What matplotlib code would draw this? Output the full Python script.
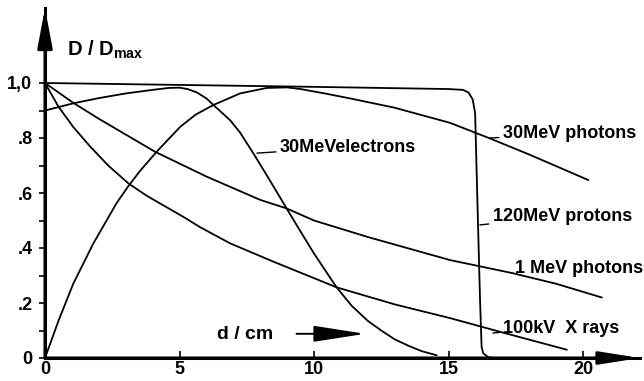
import matplotlib
matplotlib.use('Agg')
import matplotlib.pyplot as plt

plt.rcParams['font.family'] = ['Liberation Sans', 'DejaVu Sans']
plt.rcParams['mathtext.default'] = 'regular'

# ---- data ----
protons_x = [0, 5, 10, 15, 15.54, 15.75, 15.9, 15.99, 16.08, 16.17, 16.23, 16.29, 16.48, 16.67]
protons_y = [1.0, 0.993, 0.986, 0.978, 0.975, 0.965, 0.94, 0.89, 0.55, 0.22, 0.041, 0.017, 0.003, 0.0]

photons30_x = [0, 0.5, 1.05, 1.8, 2.66, 3.1, 3.53, 4.15, 5.02, 5.6, 6.26, 7.25, 8.24, 9.0, 9.5,
               10.4, 11.34, 13.0, 15.06, 16.5, 18.0, 20.2]
photons30_y = [0.0, 0.135, 0.27, 0.417, 0.563, 0.625, 0.68, 0.75, 0.84, 0.885, 0.92, 0.962, 0.982, 0.984, 0.978,
               0.962, 0.944, 0.91, 0.855, 0.80, 0.74, 0.647]

electrons_x = [0, 1.05, 2, 3, 4, 4.6, 5.0, 5.3, 5.64, 6.0, 6.26, 6.88, 7.25, 7.74, 8.24, 8.61, 8.98,
               9.5, 10.0, 10.84, 11.4, 12.0, 12.5, 13.0, 13.5, 14.0, 14.56]
electrons_y = [0.90, 0.926, 0.945, 0.962, 0.975, 0.982, 0.983, 0.978, 0.966, 0.944, 0.92, 0.865, 0.82, 0.745,
               0.665, 0.605, 0.544, 0.46, 0.38, 0.257, 0.19, 0.135, 0.10, 0.068, 0.045, 0.025, 0.01]

mev1_x = [0, 1.05, 2, 4.09, 6, 8, 8.98, 10, 12, 15.06, 17.36, 19, 20.7]
mev1_y = [1.0, 0.928, 0.87, 0.75, 0.66, 0.575, 0.544, 0.50, 0.44, 0.356, 0.309, 0.27, 0.22]

kv100_x = [0, 0.5, 1.05, 1.67, 2.35, 3.1, 3.78, 5.2, 5.76, 6.88, 8.5, 10.84, 13, 15.06, 17, 19.4]
kv100_y = [1.0, 0.914, 0.84, 0.77, 0.70, 0.635, 0.59, 0.51, 0.476, 0.417, 0.35, 0.257, 0.195, 0.145, 0.093, 0.03]

x_ticks = [0, 5, 10, 15, 20]
x_ticklabels = ['0', '5', '10', '15', '20']
y_ticks = [0, 0.2, 0.4, 0.6, 0.8, 1.0]
y_ticklabels = ['0', '.2', '.4', '.6', '.8', '1,0']
y_minor = [0.1, 0.3, 0.5, 0.7, 0.9]

labels = ['30MeVelectrons', '30MeV photons', '120MeV protons', '1 MeV photons', '100kV  X rays']
label_pts = [(7.88, 0.745), (16.54, 0.80), (16.17, 0.484), (17.36, 0.309), (16.65, 0.091)]
label_txt = [(8.74, 0.767), (17.03, 0.815), (16.65, 0.516), (17.47, 0.324), (17.03, 0.109)]

# ---- layout ----
W, H = 644, 381
x0px, y0px = 45, 358
px_per_cm = 26.9
px_per_unit = 275
right_px, top_px = 640, 8

fig = plt.figure(figsize=(W / 100, H / 100), dpi=100)
ax = fig.add_axes([x0px / W, (H - y0px) / H, (right_px - x0px) / W, (y0px - top_px) / H])
ax.set_xlim(0, (right_px - x0px) / px_per_cm)
ax.set_ylim(0, (y0px - top_px) / px_per_unit)

lw = 1.3
for xs, ys in [(protons_x, protons_y), (photons30_x, photons30_y), (electrons_x, electrons_y),
               (mev1_x, mev1_y), (kv100_x, kv100_y)]:
    ax.plot(xs, ys, color='black', lw=lw, solid_joinstyle='round', solid_capstyle='round', clip_on=False)

for sp in ['top', 'right']:
    ax.spines[sp].set_visible(False)
for sp in ['left', 'bottom']:
    ax.spines[sp].set_linewidth(2.2)

# axis arrows
ax.annotate('', xy=(1, 0), xytext=(0, 0), xycoords='axes fraction', textcoords='axes fraction',
            arrowprops=dict(arrowstyle='-|>,head_length=2.4,head_width=0.38', color='black',
                            lw=2.2, shrinkA=0, shrinkB=0, mutation_scale=10))
ax.annotate('', xy=(0, 1), xytext=(0, 0), xycoords='axes fraction', textcoords='axes fraction',
            arrowprops=dict(arrowstyle='-|>,head_length=2.4,head_width=0.45', color='black',
                            lw=2.2, shrinkA=0, shrinkB=0, mutation_scale=10))

fs = 13
ax.set_xticks(x_ticks)
ax.set_xticklabels(x_ticklabels, fontsize=fs, fontweight='bold')
ax.tick_params(axis='x', direction='in', length=5, width=1.2, pad=2)
ax.set_yticks(y_ticks)
ax.set_yticklabels(y_ticklabels, fontsize=fs, fontweight='bold')
ax.set_yticks(y_minor, minor=True)
ax.tick_params(axis='y', which='both', direction='out', length=4, width=1.2, pad=5)

# axis titles
ax.text(0.8, 1.12, r'D / D$_{max}$', fontsize=14.5, fontweight='bold', va='center', ha='left')
ax.text(6.4, 0.084, 'd / cm', fontsize=14, fontweight='bold', va='center', ha='left')
ax.annotate('', xy=(11.9, 0.088), xytext=(9.35, 0.088),
            arrowprops=dict(arrowstyle='-|>,head_length=3.2,head_width=0.5', color='black',
                            lw=1.4, shrinkA=0, shrinkB=0, mutation_scale=10))

# curve labels with leader lines
for lab, p, t in zip(labels, label_pts, label_txt):
    ax.annotate(lab, xy=p, xytext=t, fontsize=fs, fontweight='bold', va='center', ha='left',
                arrowprops=dict(arrowstyle='-', color='black', lw=1.0, shrinkA=1, shrinkB=0),
                annotation_clip=False)

fig.savefig('out.png', dpi=100)
